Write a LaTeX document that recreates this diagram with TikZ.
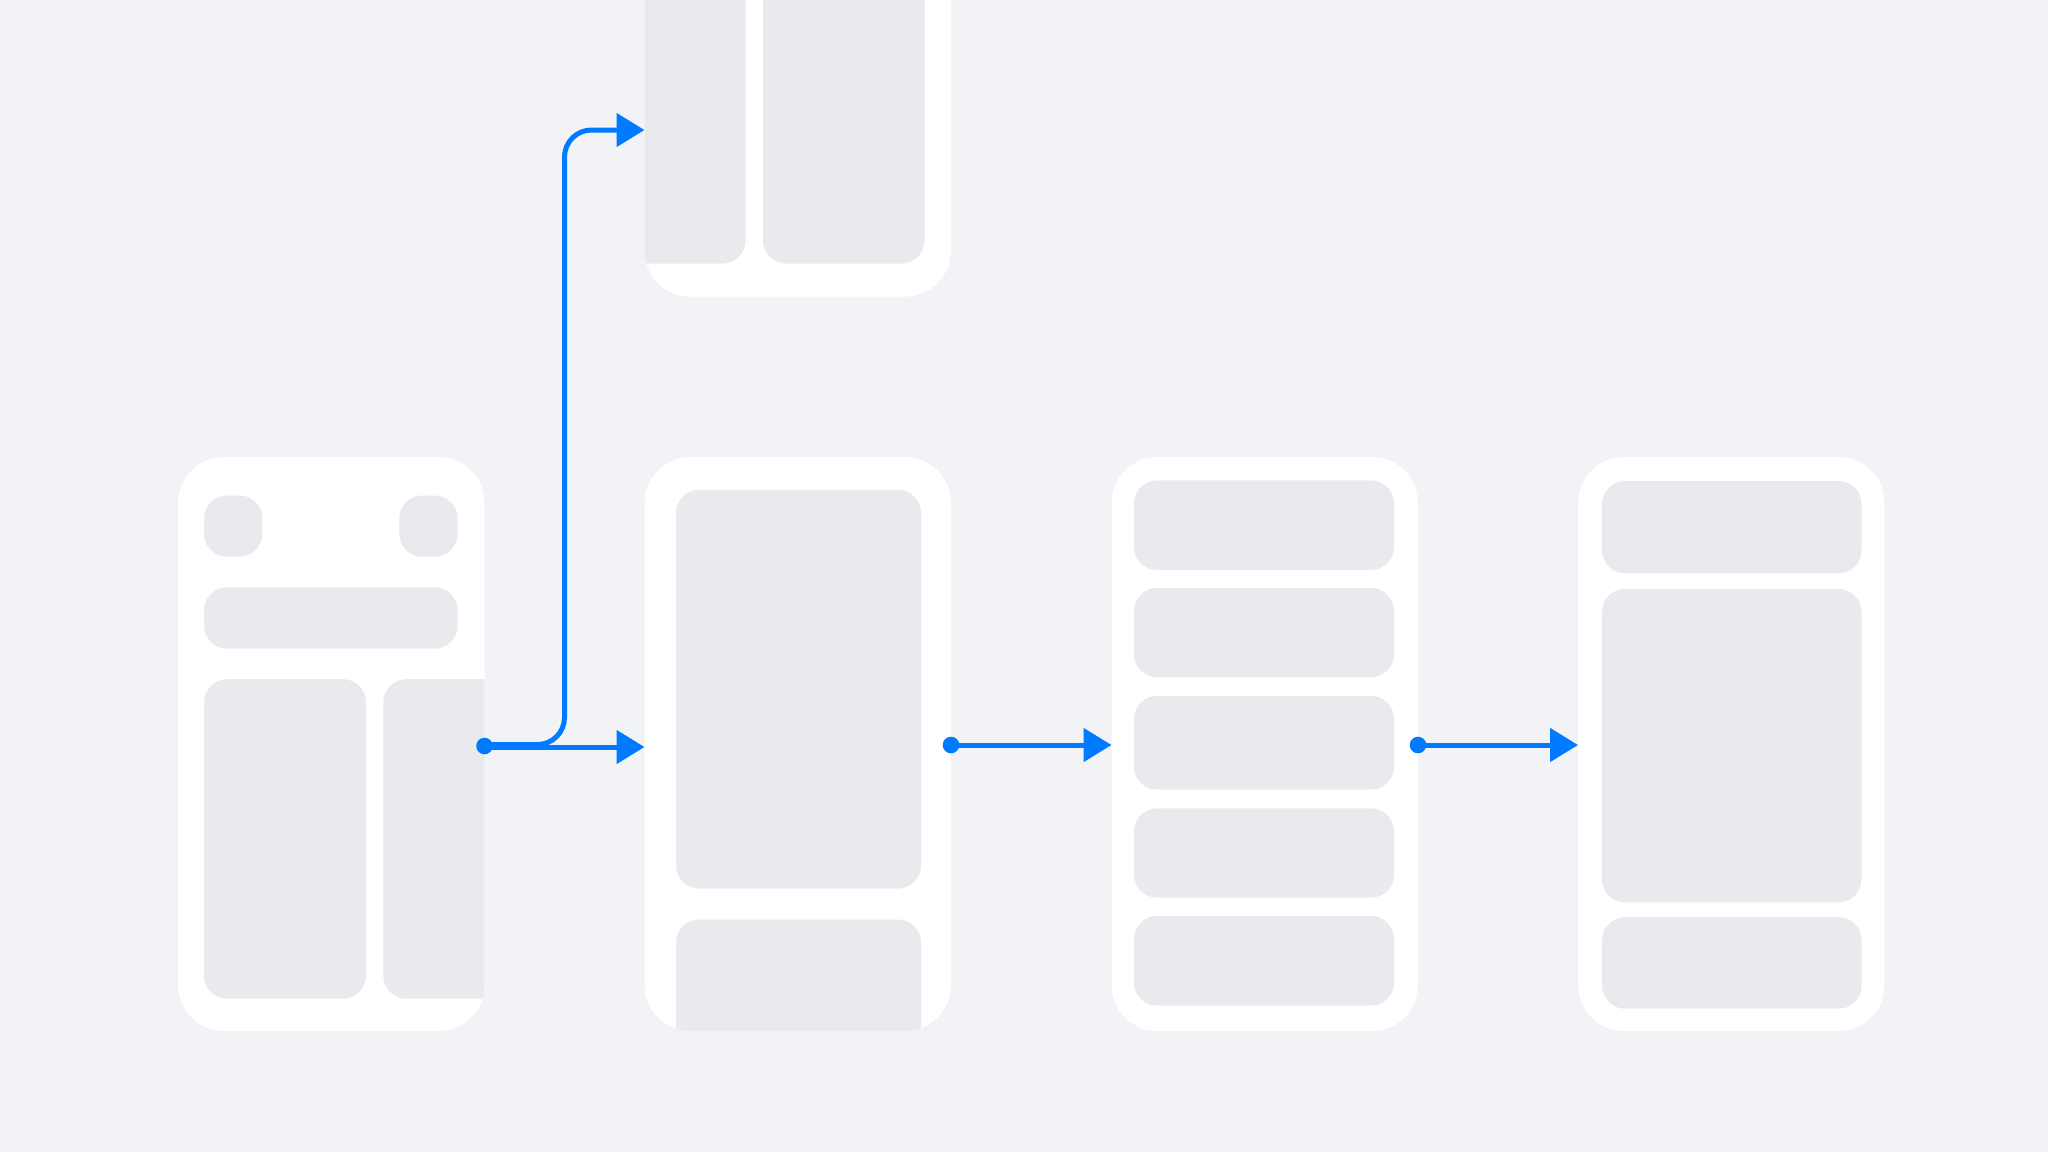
\documentclass[tikz,border=0pt]{standalone}
\usetikzlibrary{arrows.meta}
\definecolor{bgc}{RGB}{241,243,247}
\definecolor{boxc}{RGB}{232,234,238}
\definecolor{linkc}{RGB}{0,122,255}
\tikzset{
 phone/.style={fill=white, rounded corners=46pt, minimum width=306.5pt, minimum height=574pt, inner sep=0pt, outer sep=0pt, anchor=north west, draw=none},
 panel/.style={fill=boxc, rounded corners=23pt},
 flow/.style={draw=linkc, line width=5pt, -{Triangle[length=28pt,width=33pt]}},
 knob/.style={fill=linkc},
}
\begin{document}
\begin{tikzpicture}[x=1pt,y=-1pt]
\fill[bgc] (0,0) rectangle (2048,1152);
\useasboundingbox (0,0) rectangle (2048,1152);
\clip (0,0) rectangle (2048,1152);

% phone 1
\node[phone] (p1) at (178,457) {};
\begin{scope}
\clip[rounded corners=46pt] (178,457) rectangle (484.5,1031);
\fill[panel] (204,495.5) rectangle (262.3,556.7);
\fill[panel] (399.3,495.5) rectangle (457.7,556.7);
\fill[panel] (204,587.3) rectangle (457.7,648.6);
\fill[panel] (204,679.2) rectangle (366,998.7);
\fill[panel] (383.3,679.2) rectangle (545,998.7);
\end{scope}

% phone 3 (top, mirrored)
\node[phone] (p3) at (644.5,-277.3) {};
\begin{scope}
\clip[rounded corners=46pt] (644.5,-277.3) rectangle (951,296.7);
\fill[panel] (866.7,-238.8) rectangle (925,-177.6);
\fill[panel] (671.3,-238.8) rectangle (729.7,-177.6);
\fill[panel] (671.3,-147) rectangle (925,-85.7);
\fill[panel] (763,-55.1) rectangle (924.5,263.5);
\fill[panel] (584,-55.1) rectangle (745.5,263.5);
\end{scope}

% phone 2
\node[phone] (p2) at (644.5,457) {};
\begin{scope}
\clip[rounded corners=46pt] (644.5,457) rectangle (951,1031);
\fill[panel] (676,489.8) rectangle (921,888.5);
\fill[panel] (676,919.5) rectangle (921,1075);
\end{scope}

% phone 4
\node[phone] (p4) at (1111.5,457) {};
\fill[panel] (1134,480.4) rectangle (1394,569.8);
\fill[panel] (1134,588) rectangle (1394,677.3);
\fill[panel] (1134,695.8) rectangle (1394,789.6);
\fill[panel] (1134,808.3) rectangle (1394,897.6);
\fill[panel] (1134,916) rectangle (1394,1005.6);

% phone 5
\node[phone] (p5) at (1578,457) {};
\fill[panel] (1602,481) rectangle (1861.5,573.2);
\fill[panel] (1602,588.9) rectangle (1861.5,902.3);
\fill[panel] (1602,917.2) rectangle (1861.5,1008.7);

% connectors
\draw[flow, rounded corners=27pt] ([yshift=-0.5pt]p1.east) -- ++(80,0) |- ([yshift=-120.3pt]p3.west);
\draw[flow] ([yshift=-3pt]p1.east) -- ([yshift=-3pt]p2.west);
\fill[knob] ([yshift=-2pt]p1.east) circle[radius=8.3pt];

\draw[flow] ([yshift=-1pt]p2.east) -- ([yshift=-1pt]p4.west);
\fill[knob] ([yshift=-1pt]p2.east) circle[radius=8.3pt];

\draw[flow] ([yshift=-1pt]p4.east) -- ([yshift=-1pt]p5.west);
\fill[knob] ([yshift=-1pt]p4.east) circle[radius=8.3pt];
\end{tikzpicture}
\end{document}
